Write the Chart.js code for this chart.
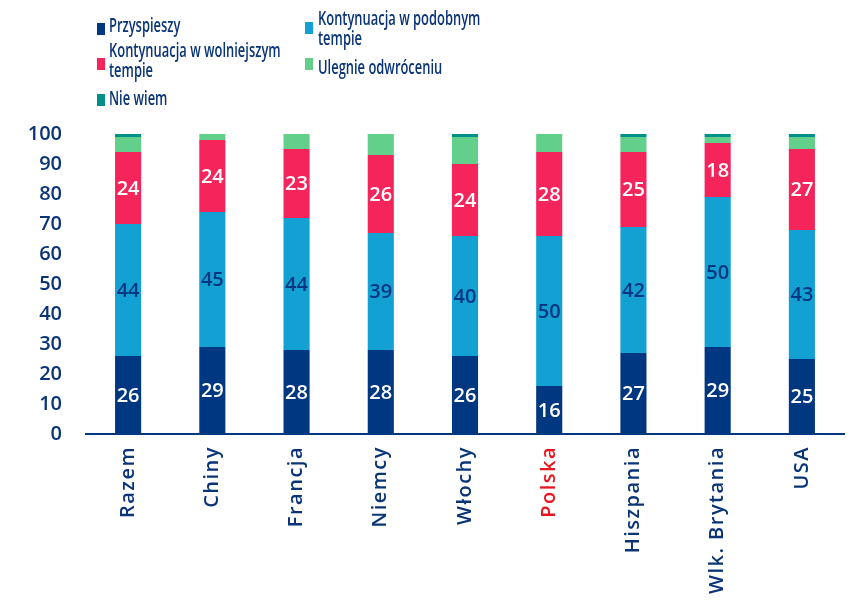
<!DOCTYPE html>
<html>
<head>
<meta charset="utf-8">
<script src="https://cdn.jsdelivr.net/npm/chart.js@4.4.1/dist/chart.umd.min.js"></script>
<style>
  html, body { margin: 0; padding: 0; background: #fff; }
  #wrap { position: relative; width: 864px; height: 615px; }
  #c { position: absolute; left: 0; top: 0; }
  .lg { position: absolute; font-family: "Open Sans", sans-serif; font-size: 19px; font-weight: 600; color: #0a3478; line-height: 20px; white-space: nowrap; transform-origin: left top; transform: scaleX(0.68); }
  .sq { position: absolute; width: 8px; height: 12px; }
</style>
</head>
<body>
<div id="wrap">
  <canvas id="c" width="864" height="615"></canvas>
</div>
<script>
const categories = ["Razem", "Chiny", "Francja", "Niemcy", "Włochy", "Polska", "Hiszpania", "Wlk. Brytania", "USA"];
const seriesNames = ["Przyspieszy", "Kontynuacja w podobnym tempie", "Kontynuacja w wolniejszym tempie", "Ulegnie odwróceniu", "Nie wiem"];
const przyspieszy = [26, 29, 28, 28, 26, 16, 27, 29, 25];
const podobnym    = [44, 45, 44, 39, 40, 50, 42, 50, 43];
const wolniejszym = [24, 24, 23, 26, 24, 28, 25, 18, 27];
const odwroceniu  = [5, 2, 5, 7, 9, 6, 5, 2, 4];
const nieWiem     = [1, 0, 0, 0, 1, 0, 1, 1, 1];
const yTicks = [0, 10, 20, 30, 40, 50, 60, 70, 80, 90, 100];

const NAVY = "#003781";
const TEXT = "#0a3478";
const colors = ["#003781", "#13a0d3", "#f5245a", "#62cf8b", "#00908a"];
const labelColors = ["#ffffff", "#003781", "#ffffff", null, null];
const values = [przyspieszy, podobnym, wolniejszym, odwroceniu, nieWiem];

// HTML legend (two columns, wrapped text like reference)
const legendLayout = [
  { x: 97, y: 23, tx: 109, ty: 15, lines: ["Przyspieszy"] },
  { x: 305, y: 22, tx: 318, ty: 8, lines: ["Kontynuacja w podobnym", "tempie"] },
  { x: 97, y: 58, tx: 109, ty: 40, lines: ["Kontynuacja w wolniejszym", "tempie"] },
  { x: 305, y: 58, tx: 318, ty: 57, lines: ["Ulegnie odwróceniu"] },
  { x: 97, y: 94, tx: 109, ty: 88, lines: ["Nie wiem"] }
];
const wrap = document.getElementById("wrap");
seriesNames.forEach((name, i) => {
  const L = legendLayout[i];
  const sq = document.createElement("div");
  sq.className = "sq";
  sq.style.left = L.x + "px"; sq.style.top = L.y + "px";
  sq.style.background = colors[i];
  wrap.appendChild(sq);
  const t = document.createElement("div");
  t.className = "lg";
  t.style.left = L.tx + "px"; t.style.top = L.ty + "px";
  t.innerHTML = L.lines.join("<br>");
  wrap.appendChild(t);
});

const segLabels = {
  id: "segLabels",
  afterDatasetsDraw(chart) {
    const ctx = chart.ctx;
    ctx.save();
    ctx.font = "600 20px 'Open Sans', sans-serif";
    ctx.textAlign = "center";
    ctx.textBaseline = "middle";
    chart.data.datasets.forEach((ds, di) => {
      if (!labelColors[di]) return;
      const meta = chart.getDatasetMeta(di);
      meta.data.forEach((bar, j) => {
        const v = ds.data[j];
        if (!v) return;
        ctx.fillStyle = labelColors[di];
        ctx.fillText(String(v), bar.x, (bar.y + bar.base) / 2 + 1);
      });
    });
    ctx.restore();
  }
};

// wider letter spacing for the category labels, like the reference typeface
const xLabelSpacing = {
  id: "xLabelSpacing",
  beforeDraw(chart) {
    const sx = chart.scales.x;
    if (sx._spacedPatched) return;
    const orig = sx.drawLabels.bind(sx);
    sx.drawLabels = function (area) {
      const ctx = chart.ctx;
      ctx.save();
      ctx.letterSpacing = "1.5px";
      orig(area);
      ctx.restore();
    };
    sx._spacedPatched = true;
  }
};

new Chart(document.getElementById("c"), {
  type: "bar",
  data: {
    labels: categories,
    datasets: seriesNames.map((n, i) => ({
      label: n,
      data: values[i],
      backgroundColor: colors[i],
      borderWidth: 0,
      barPercentage: 0.31,
      categoryPercentage: 1.0
    }))
  },
  options: {
    responsive: false,
    animation: false,
    layout: { padding: { top: 134, right: 20, left: 0, bottom: 0 } },
    plugins: { legend: { display: false }, tooltip: { enabled: false } },
    scales: {
      x: {
        stacked: true,
        grid: { display: false, drawTicks: false },
        border: { display: true, color: NAVY, width: 2 },
        ticks: {
          minRotation: 90, maxRotation: 90, padding: 12,
          font: { family: "'Open Sans', sans-serif", size: 20, weight: 600 },
          color: (c) => categories[c.index] === "Polska" ? "#e8141e" : TEXT
        },
        afterFit: (s) => { s.height = 181; }
      },
      y: {
        stacked: true,
        min: 0, max: 100,
        afterBuildTicks: (s) => { s.ticks = yTicks.map(v => ({ value: v })); },
        grid: { display: false, drawTicks: false },
        border: { display: false },
        ticks: {
          padding: 24,
          font: { family: "'Open Sans', sans-serif", size: 20, weight: 600 },
          color: TEXT
        },
        afterFit: (s) => { s.width = 86; }
      }
    }
  },
  plugins: [segLabels, xLabelSpacing]
});
</script>
</body>
</html>
